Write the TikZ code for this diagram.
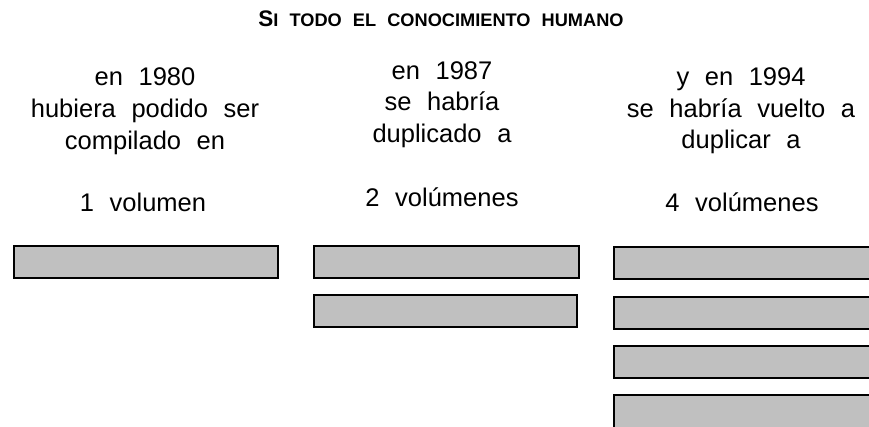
\documentclass[tikz,border=0pt]{standalone}
\usepackage{fontspec}
\setmainfont{Liberation Sans}
\newfontfamily\bodyfont[WordSpace=1.7]{Liberation Sans}
\newfontfamily\titlefont[WordSpace=2.2]{Liberation Sans}
\definecolor{bargray}{HTML}{C0C0C0}
\tikzset{
  txt/.style={anchor=base, inner sep=0pt, font=\bodyfont\fontsize{25.5}{26}\selectfont},
  bar/.style={draw=black, fill=bargray, line width=2pt, inner sep=0pt, minimum height=32pt},
}
\begin{document}
\begin{tikzpicture}[x=1pt,y=-1pt]
\useasboundingbox (0,0) rectangle (869,427);
\clip (0,0) rectangle (869,427);
% title
\node[anchor=base, inner sep=0pt] (title) at (441,27)
  {\titlefont\bfseries{\fontsize{22.5}{23}\selectfont S}{\fontsize{18.2}{19}\selectfont I TODO EL CONOCIMIENTO HUMANO}};
% column 1
\node[txt] (c1a) at (145,85.7) {en 1980};
\node[txt] (c1b) at (145,117.5) {hubiera podido ser};
\node[txt] (c1c) at (145,149.3) {compilado en};
\node[txt] (c1d) at (143,211.7) {1 volumen};
% column 2
\node[txt] (c2a) at (442,79.3) {en 1987};
\node[txt] (c2b) at (442,111) {se habría};
\node[txt] (c2c) at (442,142.7) {duplicado a};
\node[txt] (c2d) at (442,206.7) {2 volúmenes};
% column 3
\node[txt] (c3a) at (741,85.7) {y en 1994};
\node[txt] (c3b) at (741,117.5) {se habría vuelto a};
\node[txt] (c3c) at (741,148.3) {duplicar a};
\node[txt] (c3d) at (742,211.7) {4 volúmenes};
% bars
\node[bar, minimum width=264pt] (b1) at (145.5,262) {};
\node[bar, minimum width=265pt] (b2a) at (446.5,262) {};
\node[bar, minimum width=263pt] (b2b) at (445.5,311) {};
\node[bar, minimum width=280pt] (b3a) at (754,263.5) {};
\node[bar, minimum width=280pt] (b3b) at (754,313) {};
\node[bar, minimum width=280pt] (b3c) at (754,361.5) {};
\node[bar, minimum width=280pt, minimum height=44pt] (b3d) at (754,416.8) {};
\end{tikzpicture}
\end{document}
